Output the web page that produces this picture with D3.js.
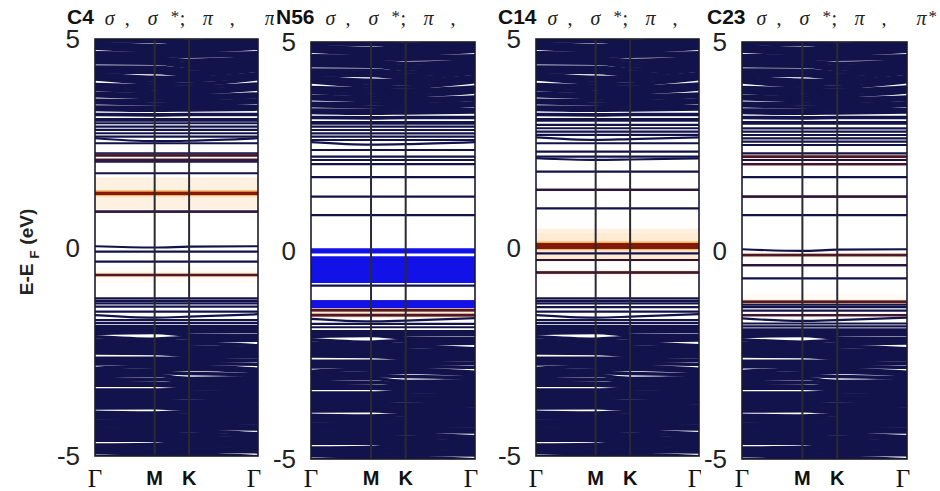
<!DOCTYPE html>
<html>
<head>
<meta charset="utf-8">
<script src="https://cdn.jsdelivr.net/npm/d3@7"></script>
<style>
  body { margin: 0; background: #fff; }
  svg { display: block; }
</style>
</head>
<body>
<svg id="chart" width="940" height="491"></svg>
<script>
// ---- k-path and energy window -------------------------------------------
const energyTicks = [-5, 0, 5];
const kLabels = ["Γ", "M", "K", "Γ"];
const kSegments = [0.866, 0.5, 1.0];          // |Γ-M|, |M-K|, |K-Γ| of the hexagonal zone
const titleSymbols = ["σ", ",", "σ", "*", ";", "π", ",", "π", "*"];

// ---- bands shared by every projection (deep valence / high conduction) ----
// a row is either a flat level or the energies at [Γ, M, K, Γ]
const hostUpper = [
  [3.06, 3.06, 3.06, 3.06], [3.19, 3.18, 3.19, 3.19], [3.31, 3.29, 3.30, 3.32],
  [3.37, 3.36, 3.37, 3.38], [3.47, 3.44, 3.43, 3.48], [3.53, 3.52, 3.50, 3.54],
  [3.64, 3.59, 3.57, 3.62], [3.70, 3.66, 3.64, 3.68], [3.79, 3.73, 3.71, 3.80],
  [3.85, 3.80, 3.78, 3.86], [3.91, 3.87, 3.85, 3.92], [4.04, 3.94, 3.92, 4.05],
  [4.10, 4.01, 4.00, 4.11], [4.16, 4.08, 4.07, 4.17], [4.21, 4.20, 4.14, 4.25],
  [4.27, 4.26, 4.21, 4.31], [4.33, 4.32, 4.28, 4.37], [4.43, 4.42, 4.35, 4.43],
  [4.49, 4.48, 4.42, 4.49], [4.55, 4.54, 4.49, 4.55], [4.61, 4.60, 4.59, 4.61],
  [4.67, 4.66, 4.65, 4.67], [4.78, 4.72, 4.71, 4.78], [4.84, 4.78, 4.77, 4.84],
  [4.90, 4.84, 4.83, 4.90], [4.96, 4.94, 4.89, 4.96], [5.02, 5.00, 4.95, 5.02]
];
const hostLower = [
  [-1.95, -1.95, -1.95, -1.95], [-2.02, -2.00, -2.02, -2.02], [-2.06, -2.04, -2.10, -2.12],
  [-2.14, -2.20, -2.16, -2.16], [-2.22, -2.26, -2.24, -2.22], [-2.30, -2.30, -2.30, -2.36],
  [-2.38, -2.37, -2.38, -2.42], [-2.45, -2.44, -2.45, -2.48], [-2.50, -2.52, -2.52, -2.55],
  [-2.53, -2.54, -2.58, -2.58], [-2.66, -2.66, -2.64, -2.62], [-2.72, -2.72, -2.72, -2.70],
  [-2.79, -2.78, -2.78, -2.80], [-2.90, -2.85, -2.85, -2.92], [-2.96, -2.93, -2.92, -2.98],
  [-3.03, -3.00, -3.02, -3.05], [-3.10, -3.07, -3.14, -3.12], [-3.17, -3.16, -3.20, -3.19],
  [-3.24, -3.25, -3.27, -3.26], [-3.30, -3.30, -3.34, -3.33], [-3.42, -3.42, -3.40, -3.38],
  [-3.48, -3.49, -3.47, -3.45], [-3.55, -3.55, -3.54, -3.52], [-3.62, -3.60, -3.60, -3.59],
  [-3.68, -3.67, -3.68, -3.66], [-3.74, -3.74, -3.75, -3.73], [-3.80, -3.82, -3.82, -3.80],
  [-3.85, -3.84, -3.88, -3.87], [-3.95, -3.97, -3.94, -3.93], [-4.02, -4.03, -4.01, -4.00],
  [-4.09, -4.10, -4.08, -4.07], [-4.16, -4.16, -4.15, -4.14], [-4.22, -4.22, -4.22, -4.21],
  [-4.28, -4.29, -4.29, -4.28], [-4.35, -4.36, -4.34, -4.35], [-4.42, -4.42, -4.40, -4.47],
  [-4.49, -4.49, -4.48, -4.53], [-4.56, -4.55, -4.55, -4.59], [-4.62, -4.62, -4.62, -4.65],
  [-4.74, -4.72, -4.68, -4.71], [-4.80, -4.78, -4.75, -4.77], [-4.86, -4.85, -4.82, -4.84],
  [-4.92, -4.92, -4.89, -4.90], [-5.02, -4.97, -4.96, -5.02]
];

// ---- C4 projection ---------------------------------------------------------
const c4Bands = [2.98, 2.90, 2.82, 2.74, 2.66, [2.62, 2.55, 2.56, 2.62], 2.50, 2.26, 2.21,
  2.10, 2.06, 1.78, 1.30, 0.86, [0.03, 0.00, 0.02, 0.03], -0.10, -0.34, -0.66,
  -1.22, -1.28, -1.34, -1.42, -1.54, [-1.62, -1.68, -1.66, -1.60], -1.74, -1.81, -1.88];
const c4Orange = [2.21, 2.10, 1.30, 0.86, -0.66];
const c4OrangeWeight = [0.35, 0.25, 1.0, 0.2, 0.5];

// ---- N56 projection --------------------------------------------------------
const n56Bands = [2.97, 2.89, 2.81, 2.73, 2.65, [2.60, 2.54, 2.55, 2.60], 2.41, 2.25, 2.17,
  2.07, 1.76, 1.29, 0.85, -0.01, -0.23, -0.42, -0.64, -0.84,
  -1.22, -1.30, -1.43, -1.55, [-1.64, -1.70, -1.68, -1.62], -1.76, -1.84];
const n56Blue = [-0.01, -0.22, -0.34, -0.46, -0.58, -0.70, -1.25, -1.32];
const n56BlueWeight = [0.8, 1.0, 1.0, 1.0, 1.0, 1.0, 0.75, 0.75];
const n56Orange = [-1.43, -1.55];
const n56OrangeWeight = [0.5, 0.45];

// ---- C14 projection --------------------------------------------------------
const c14Bands = [2.94, 2.86, 2.78, 2.70, [2.64, 2.58, 2.60, 2.64], 2.50, 2.30, 2.18,
  [2.14, 2.10, 2.11, 2.14], 1.82, 1.38, 0.94, 0.07, 0.00, -0.14, -0.30, -0.60,
  -1.22, -1.28, -1.34, -1.43, -1.54, [-1.62, -1.68, -1.66, -1.60], -1.74, -1.81, -1.88];
const c14Orange = [0.07, 0.00, -0.30, -0.60, 1.38];
const c14OrangeWeight = [1.0, 0.9, 0.15, 0.35, 0.15];

// ---- C23 projection --------------------------------------------------------
const c23Bands = [2.93, 2.85, 2.77, 2.69, 2.61, 2.53, 2.33, 2.25, 2.17, 2.07, 1.76, 1.29, 0.85,
  [0.03, -0.01, 0.02, 0.03], -0.11, -0.35, -0.67,
  -1.23, -1.30, -1.36, -1.44, -1.55, [-1.63, -1.69, -1.67, -1.61], -1.75, -1.82, -1.89];
const c23Orange = [2.25, 2.07, 1.29, -0.11, -0.35, -1.23, -1.55];
const c23OrangeWeight = [0.45, 0.3, 0.2, 0.45, 0.15, 0.5, 0.3];

const panels = [
  { name: "C4",  bands: c4Bands,  orange: c4Orange,  orangeW: c4OrangeWeight,  blue: [], blueW: [] },
  { name: "N56", bands: n56Bands, orange: n56Orange, orangeW: n56OrangeWeight, blue: n56Blue, blueW: n56BlueWeight },
  { name: "C14", bands: c14Bands, orange: c14Orange, orangeW: c14OrangeWeight, blue: [], blueW: [] },
  { name: "C23", bands: c23Bands, orange: c23Orange, orangeW: c23OrangeWeight, blue: [], blueW: [] }
];

// ---- page layout -----------------------------------------------------------
const frames = [
  { left: 95,  right: 258, top: 39, bottom: 456, bgLeft: 0,   titleX: 67 },
  { left: 311, right: 475, top: 42, bottom: 459, bgLeft: 274, titleX: 276 },
  { left: 536, right: 699, top: 39, bottom: 456, bgLeft: 480, titleX: 498 },
  { left: 742, right: 907, top: 42, bottom: 459, bgLeft: 701, titleX: 707 }
];
const symbolOffsets = [0, 20, 43, 66, 75, 98, 125, 160, 172];

const W = 940, H = 491;
const NAVY = "#13134c";
const svg = d3.select("#chart");

const kPos = [0];
kSegments.forEach(s => kPos.push(kPos[kPos.length - 1] + s));
const toRow = b => Array.isArray(b) ? b : [b, b, b, b];

panels.forEach((p, i) => {
  const F = frames[i];
  const sheetRight = i < frames.length - 1 ? frames[i + 1].bgLeft : W;
  const g = svg.append("g").attr("class", "panel");

  // each panel sits on its own white sheet laid over the previous one
  g.append("rect").attr("x", F.bgLeft).attr("y", 0)
    .attr("width", W - F.bgLeft).attr("height", H).attr("fill", "#fff");

  const x = d3.scaleLinear().domain([0, kPos[3]]).range([F.left, F.right]);
  const y = d3.scaleLinear().domain([-5, 5]).range([F.bottom, F.top]);

  // title: atom label followed by the orbital characters, cut where the next sheet begins
  const titleClip = "title-clip-" + i;
  g.append("clipPath").attr("id", titleClip).append("rect")
    .attr("x", F.bgLeft).attr("y", 0).attr("width", sheetRight - F.bgLeft).attr("height", 40);
  const tg = g.append("g").attr("clip-path", `url(#${titleClip})`);
  const title = tg.append("text").attr("x", F.titleX).attr("y", 24)
    .attr("font-family", "Liberation Sans, Arial, sans-serif")
    .attr("font-weight", "bold").attr("font-size", 21).attr("fill", "#111")
    .text(p.name);
  const sx = F.titleX + title.node().getComputedTextLength() + 11;
  const shown = titleSymbols
    .map((s, j) => ({ s, x: sx + symbolOffsets[j] }))
    .filter(d => d.x < sheetRight - 3);
  tg.selectAll("text.sym").data(shown).join("text")
    .attr("class", "sym")
    .attr("x", d => d.x)
    .attr("y", d => d.s === "*" ? 22 : 25)
    .attr("font-family", "Liberation Serif, Times New Roman, serif")
    .attr("font-style", d => (d.s === "σ" || d.s === "π") ? "italic" : "normal")
    .attr("font-size", d => d.s === "*" ? 17 : 20)
    .attr("fill", "#222")
    .text(d => d.s);

  // energy axis labels
  g.selectAll("text.ytick").data(energyTicks).join("text")
    .attr("class", "ytick")
    .attr("x", F.left - 15).attr("y", d => y(d))
    .attr("dy", "0.36em").attr("text-anchor", "end")
    .attr("font-family", "Liberation Sans, Arial, sans-serif")
    .attr("font-size", 26).attr("fill", "#222")
    .text(d => d);

  // plotting area
  const clipId = "clip-" + i;
  g.append("clipPath").attr("id", clipId).append("rect")
    .attr("x", F.left).attr("y", F.top)
    .attr("width", F.right - F.left).attr("height", F.bottom - F.top);
  const plot = g.append("g").attr("clip-path", `url(#${clipId})`);

  const line = d3.line()
    .x((d, j) => x(kPos[j]))
    .y(d => y(d))
    .curve(d3.curveMonotoneX);

  const orangeRows = p.orange.map((e, j) => ({ row: toRow(e), w: p.orangeW[j] }));
  const blueRows = p.blue.map((e, j) => ({ row: toRow(e), w: p.blueW[j] }));

  // soft halo of the projected weight
  plot.selectAll("path.wash").data(orangeRows).join("path")
    .attr("class", "wash")
    .attr("d", d => line(d.row))
    .attr("fill", "none").attr("stroke", "#ffdcb3")
    .attr("stroke-width", d => 32 * d.w)
    .attr("stroke-opacity", d => 0.4 * d.w * d.w);

  // all Kohn-Sham levels
  plot.selectAll("path.host").data(hostUpper.concat(hostLower)).join("path")
    .attr("class", "host")
    .attr("d", d => line(toRow(d)))
    .attr("fill", "none").attr("stroke", NAVY).attr("stroke-width", 3.6);
  plot.selectAll("path.band").data(p.bands.map(toRow)).join("path")
    .attr("class", "band")
    .attr("d", d => line(d))
    .attr("fill", "none").attr("stroke", NAVY).attr("stroke-width", 2.2);

  // fat bands: N-projected weight in blue
  plot.selectAll("path.blue").data(blueRows).join("path")
    .attr("class", "blue")
    .attr("d", d => line(d.row))
    .attr("fill", "none").attr("stroke", "#1212e8")
    .attr("stroke-width", d => 6.6 * d.w);

  // fat bands: C-projected weight in orange with a dark core
  plot.selectAll("path.glow").data(orangeRows).join("path")
    .attr("class", "glow")
    .attr("d", d => line(d.row))
    .attr("fill", "none").attr("stroke", "#f2a23a")
    .attr("stroke-width", d => 3 + 3 * d.w)
    .attr("stroke-opacity", d => 0.8 * Math.pow(d.w, 1.4));
  plot.selectAll("path.core").data(orangeRows).join("path")
    .attr("class", "core")
    .attr("d", d => line(d.row))
    .attr("fill", "none")
    .attr("stroke", d => d3.interpolateRgb(NAVY, "#861a08")(Math.pow(d.w, 0.8)))
    .attr("stroke-width", d => 2 + 1.2 * d.w);

  // high-symmetry markers
  plot.selectAll("line.kline").data(kPos.slice(1, 3)).join("line")
    .attr("class", "kline")
    .attr("x1", d => x(d)).attr("x2", d => x(d))
    .attr("y1", F.top).attr("y2", F.bottom)
    .attr("stroke", "#2a2a33").attr("stroke-width", 2);

  g.append("rect")
    .attr("x", F.left).attr("y", F.top)
    .attr("width", F.right - F.left).attr("height", F.bottom - F.top)
    .attr("fill", "none").attr("stroke", "#1b1b2c").attr("stroke-width", 1.6);

  // k-path labels
  g.selectAll("text.klabel").data(kLabels).join("text")
    .attr("class", "klabel")
    .attr("x", (d, j) => x(kPos[j]) + (j === 3 ? -4 : 0))
    .attr("y", d => d === "Γ" ? 487 : 485)
    .attr("text-anchor", "middle")
    .attr("font-family", d => d === "Γ" ? "Liberation Serif, Times New Roman, serif" : "Liberation Sans, Arial, sans-serif")
    .attr("font-weight", d => d === "Γ" ? "normal" : "bold")
    .attr("font-size", d => d === "Γ" ? 25 : 20)
    .attr("fill", "#111")
    .text(d => d);

  // energy axis title on the first panel only
  if (i === 0) {
    const yl = g.append("text")
      .attr("transform", "translate(33,252) rotate(-90)")
      .attr("text-anchor", "middle")
      .attr("font-family", "Liberation Sans, Arial, sans-serif")
      .attr("font-weight", "bold").attr("font-size", 19).attr("fill", "#222");
    yl.append("tspan").text("E-E");
    yl.append("tspan").attr("dx", 5).attr("dy", 6).attr("font-size", 13).text("F");
    yl.append("tspan").attr("dx", 6).attr("dy", -6).text("(eV)");
  }
});
</script>
</body>
</html>
